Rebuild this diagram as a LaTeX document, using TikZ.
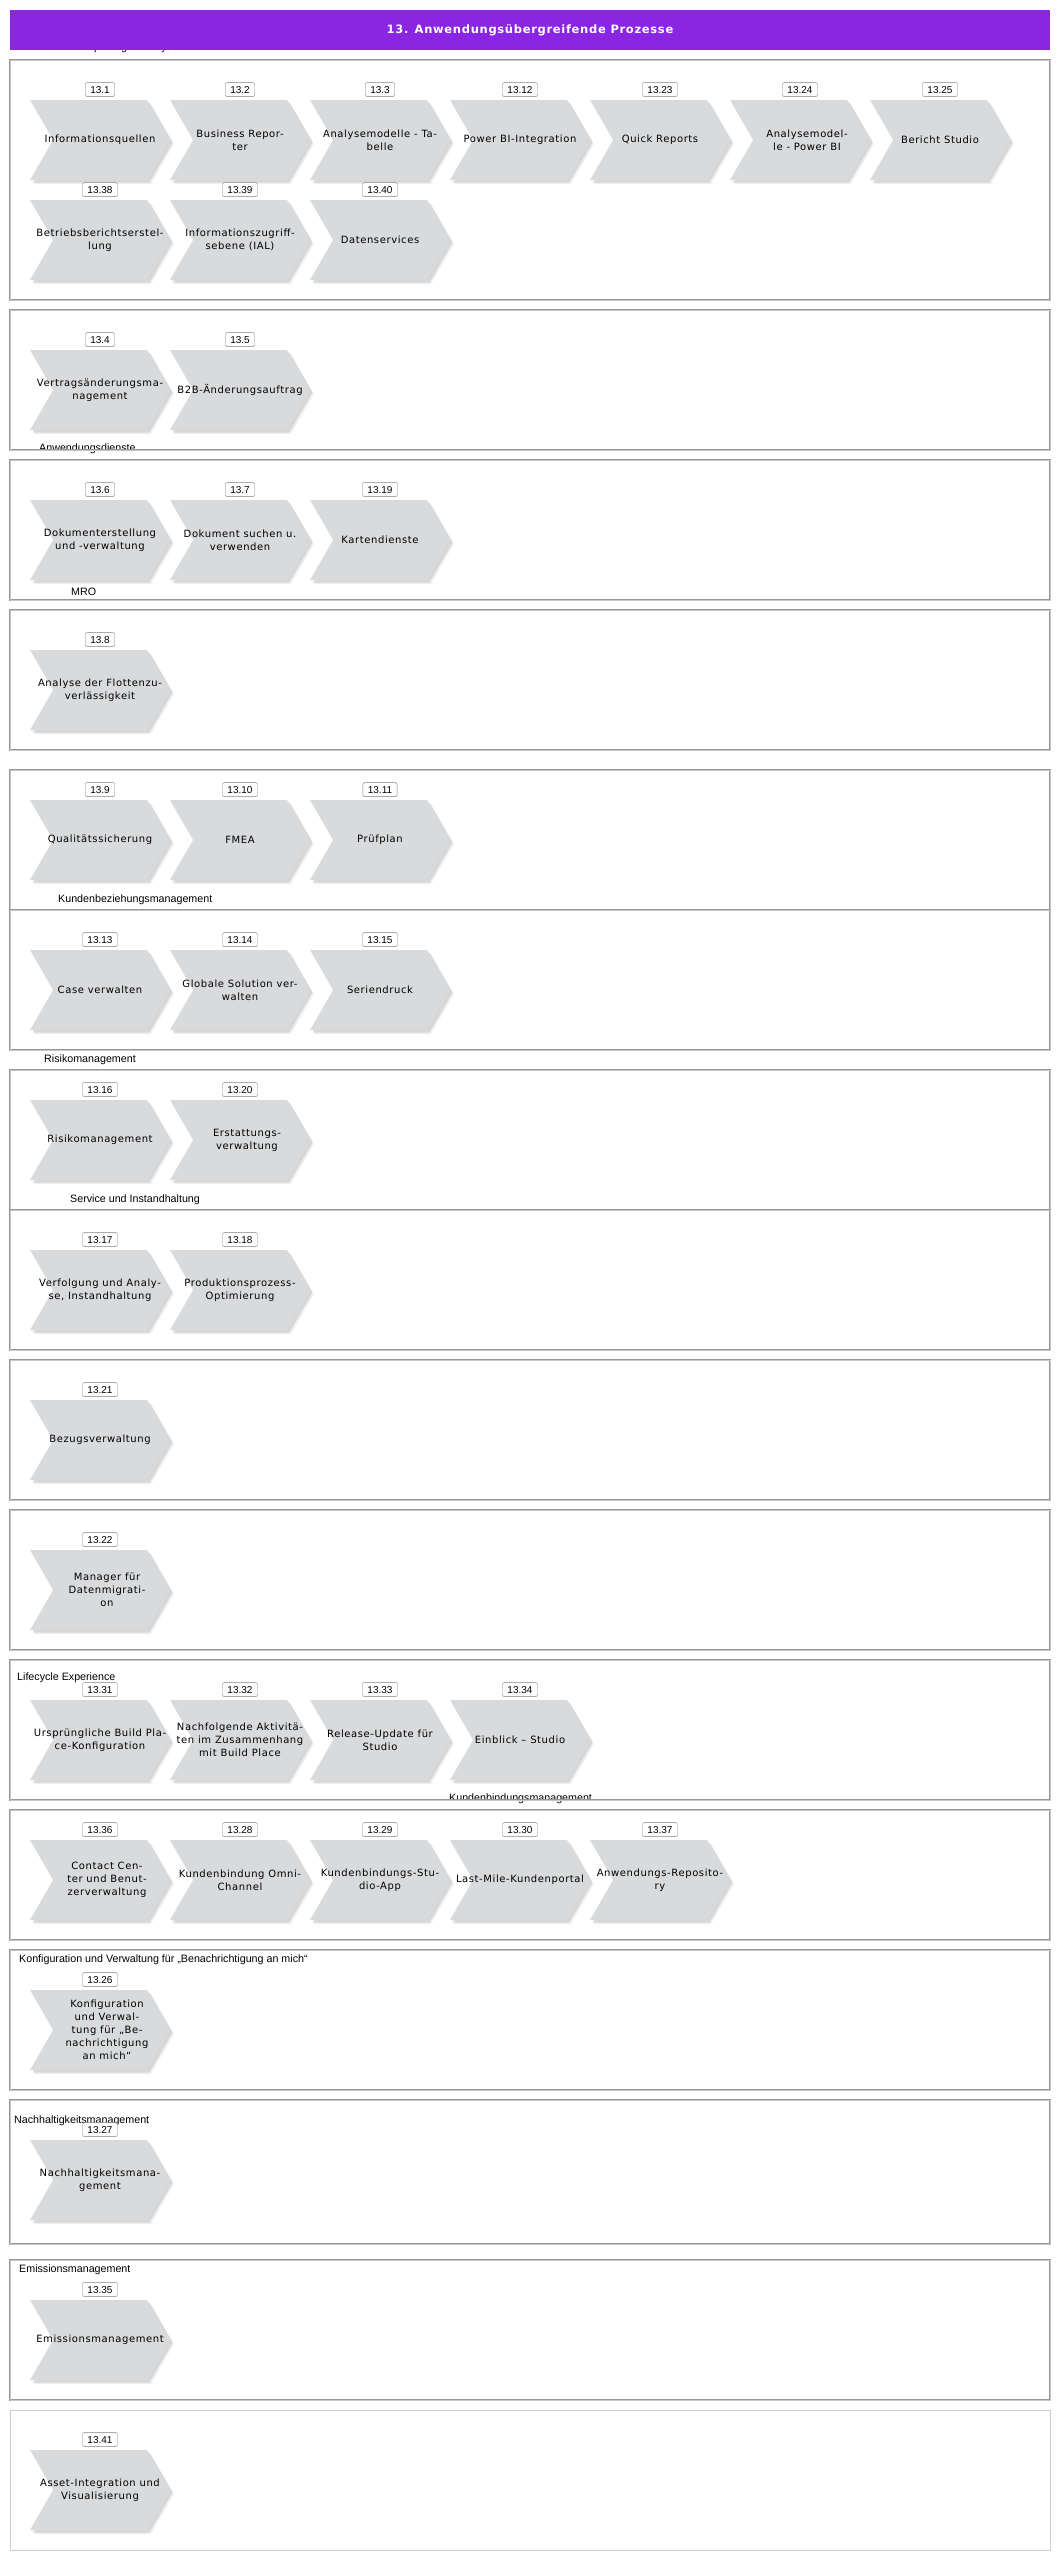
\documentclass[tikz,border=0pt]{standalone}
\usepackage{fontspec}
\setmainfont{Liberation Sans}
\newfontfamily\chevfont[LetterSpace=6]{DejaVu Sans}
\usetikzlibrary{positioning,shapes.symbols,shadows}

\begin{document}
\begin{tikzpicture}[x=1pt,y=-1pt]
\definecolor{titleviolet}{RGB}{138,38,226}
\definecolor{chevgray}{RGB}{217,218,220}
\definecolor{framegray}{RGB}{150,150,150}
\definecolor{lightframe}{RGB}{205,205,205}
\tikzset{
  frame/.style={draw=framegray, line width=0.8pt, double=black!22, double distance=1pt,
    minimum width=1040pt, inner sep=0pt},
  chevron/.style={signal, signal from=west, signal to=east, signal pointer angle=120,
    fill=chevgray, minimum width=140pt, minimum height=80pt, inner sep=0pt,
    drop shadow={shadow xshift=4pt, shadow yshift=-4pt, fill=black!12},
    drop shadow={shadow xshift=2.5pt, shadow yshift=-2.5pt, fill=black!25}},
  chevtext/.style={align=center, font=\chevfont\fontsize{10}{13}\selectfont, inner sep=0pt},
  numbox/.style={draw=black!50, fill=white, rounded corners=1.5pt, font=\fontsize{10}{12}\selectfont,
    inner xsep=5pt, inner ysep=0pt, minimum height=14pt},
  group/.style={anchor=west, font=\fontsize{10.7}{12}\selectfont, inner sep=0pt}
}
\useasboundingbox (0,0) rectangle (1060,2560);

% group labels
\node[group] (gBRA) at (34,48) {Business Reporting \& Analyse};
\node[group] (gAD) at (39,449) {Anwendungsdienste};
\node[group] (gMRO) at (71,592) {MRO};
\node[group] (gKBM) at (58,899.5) {Kundenbeziehungsmanagement};
\node[group] (gRM) at (44,1059.5) {Risikomanagement};
\node[group] (gSI) at (70,1199.5) {Service und Instandhaltung};
\node[group] (gLE) at (17,1678) {Lifecycle Experience};
\node[group] (gKBD) at (449,1799) {Kundenbindungsmanagement};
\node[group] (gKV) at (19,1960) {Konfiguration und Verwaltung für „Benachrichtigung an mich“};
\node[group] (gNH) at (14,2121) {Nachhaltigkeitsmanagement};
\node[group] (gEM) at (19,2270) {Emissionsmanagement};

% title
\node[fill=titleviolet, minimum width=1040pt, minimum height=40pt, inner sep=0pt, text=white,
  font=\chevfont\bfseries\fontsize{11.5}{14}\selectfont] (title) at (530,30)
  {13. Anwendungsübergreifende Prozesse};

% frames
\node[frame, minimum height=240pt] (f1) at (530,180) {};
\node[frame, minimum height=140pt] (f2) at (530,380) {};
\node[frame, minimum height=140pt] (f3) at (530,530) {};
\node[frame, minimum height=140pt] (f4) at (530,680) {};
\node[frame, minimum height=140pt] (f5) at (530,840) {};
\node[frame, minimum height=140pt] (f6) at (530,980) {};
\node[frame, minimum height=140pt] (f7) at (530,1140) {};
\node[frame, minimum height=140pt] (f8) at (530,1280) {};
\node[frame, minimum height=140pt] (f9) at (530,1430) {};
\node[frame, minimum height=140pt] (f10) at (530,1580) {};
\node[frame, minimum height=140pt] (f11) at (530,1730) {};
\node[frame, minimum height=130pt] (f12) at (530,1875) {};
\node[frame, minimum height=140pt] (f13) at (530,2020) {};
\node[frame, minimum height=144pt] (f14) at (530,2172) {};
\node[frame, minimum height=140pt] (f15) at (530,2330) {};
\node[frame, draw=lightframe, double=none, line width=1pt, minimum height=140pt] (f16) at (530,2480) {};

% Business Reporting & Analyse
\node[chevron] (p1) at (100,140) {};
\node[chevron] (p2) at (240,140) {};
\node[chevron] (p3) at (380,140) {};
\node[chevron] (p12) at (520,140) {};
\node[chevron] (p23) at (660,140) {};
\node[chevron] (p24) at (800,140) {};
\node[chevron] (p25) at (940,140) {};
\node[chevron] (p38) at (100,240) {};
\node[chevron] (p39) at (240,240) {};
\node[chevron] (p40) at (380,240) {};
\node[chevtext] (t1) at (p1) {Informationsquellen};
\node[chevtext] (t2) at (p2) {Business Repor-\\ter};
\node[chevtext] (t3) at (p3) {Analysemodelle - Ta-\\belle};
\node[chevtext] (t12) at (p12) {Power BI-Integration};
\node[chevtext] (t23) at (p23) {Quick Reports};
\node[chevtext, xshift=7pt] (t24) at (p24) {Analysemodel-\\le - Power BI};
\node[chevtext] (t25) at (p25) {Bericht Studio};
\node[chevtext] (t38) at (p38) {Betriebsberichtserstel-\\lung};
\node[chevtext] (t39) at (p39) {Informationszugriff-\\sebene (IAL)};
\node[chevtext] (t40) at (p40) {Datenservices};
\node[numbox, above=3pt of p1] (n1) {13.1};
\node[numbox, above=3pt of p2] (n2) {13.2};
\node[numbox, above=3pt of p3] (n3) {13.3};
\node[numbox, above=3pt of p12] (n12) {13.12};
\node[numbox, above=3pt of p23] (n23) {13.23};
\node[numbox, above=3pt of p24] (n24) {13.24};
\node[numbox, above=3pt of p25] (n25) {13.25};
\node[numbox, above=3pt of p38] (n38) {13.38};
\node[numbox, above=3pt of p39] (n39) {13.39};
\node[numbox, above=3pt of p40] (n40) {13.40};

% Vertrag, Anwendungsdienste, MRO
\node[chevron] (p4) at (100,390) {};
\node[chevron] (p5) at (240,390) {};
\node[chevron] (p6) at (100,540) {};
\node[chevron] (p7) at (240,540) {};
\node[chevron] (p19) at (380,540) {};
\node[chevron] (p8) at (100,690) {};
\node[chevtext] (t4) at (p4) {Vertragsänderungsma-\\nagement};
\node[chevtext] (t5) at (p5) {B2B-Änderungsauftrag};
\node[chevtext] (t6) at (p6) {Dokumenterstellung\\und -verwaltung};
\node[chevtext] (t7) at (p7) {Dokument suchen u.\\verwenden};
\node[chevtext] (t19) at (p19) {Kartendienste};
\node[chevtext] (t8) at (p8) {Analyse der Flottenzu-\\verlässigkeit};
\node[numbox, above=3pt of p4] (n4) {13.4};
\node[numbox, above=3pt of p5] (n5) {13.5};
\node[numbox, above=3pt of p6] (n6) {13.6};
\node[numbox, above=3pt of p7] (n7) {13.7};
\node[numbox, above=3pt of p19] (n19) {13.19};
\node[numbox, above=3pt of p8] (n8) {13.8};

% Qualitaet, Kundenbeziehung, Risiko, Service
\node[chevron] (p9) at (100,840) {};
\node[chevron] (p10) at (240,840) {};
\node[chevron] (p11) at (380,840) {};
\node[chevron] (p13) at (100,990) {};
\node[chevron] (p14) at (240,990) {};
\node[chevron] (p15) at (380,990) {};
\node[chevron] (p16) at (100,1140) {};
\node[chevron] (p20) at (240,1140) {};
\node[chevron] (p17) at (100,1290) {};
\node[chevron] (p18) at (240,1290) {};
\node[chevtext] (t9) at (p9) {Qualitätssicherung};
\node[chevtext] (t10) at (p10) {FMEA};
\node[chevtext] (t11) at (p11) {Prüfplan};
\node[chevtext] (t13) at (p13) {Case verwalten};
\node[chevtext] (t14) at (p14) {Globale Solution ver-\\walten};
\node[chevtext] (t15) at (p15) {Seriendruck};
\node[chevtext] (t16) at (p16) {Risikomanagement};
\node[chevtext, xshift=7pt] (t20) at (p20) {Erstattungs-\\verwaltung};
\node[chevtext] (t17) at (p17) {Verfolgung und Analy-\\se, Instandhaltung};
\node[chevtext] (t18) at (p18) {Produktionsprozess-\\Optimierung};
\node[numbox, above=3pt of p9] (n9) {13.9};
\node[numbox, above=3pt of p10] (n10) {13.10};
\node[numbox, above=3pt of p11] (n11) {13.11};
\node[numbox, above=3pt of p13] (n13) {13.13};
\node[numbox, above=3pt of p14] (n14) {13.14};
\node[numbox, above=3pt of p15] (n15) {13.15};
\node[numbox, above=3pt of p16] (n16) {13.16};
\node[numbox, above=3pt of p20] (n20) {13.20};
\node[numbox, above=3pt of p17] (n17) {13.17};
\node[numbox, above=3pt of p18] (n18) {13.18};

% Bezug, Datenmigration
\node[chevron] (p21) at (100,1440) {};
\node[chevron] (p22) at (100,1590) {};
\node[chevtext] (t21) at (p21) {Bezugsverwaltung};
\node[chevtext, xshift=7pt] (t22) at (p22) {Manager für\\Datenmigrati-\\on};
\node[numbox, above=3pt of p21] (n21) {13.21};
\node[numbox, above=3pt of p22] (n22) {13.22};

% Lifecycle Experience, Kundenbindung
\node[chevron] (p31) at (100,1740) {};
\node[chevron] (p32) at (240,1740) {};
\node[chevron] (p33) at (380,1740) {};
\node[chevron] (p34) at (520,1740) {};
\node[chevron] (p36) at (100,1880) {};
\node[chevron] (p28) at (240,1880) {};
\node[chevron] (p29) at (380,1880) {};
\node[chevron] (p30) at (520,1880) {};
\node[chevron] (p37) at (660,1880) {};
\node[chevtext] (t31) at (p31) {Ursprüngliche Build Pla-\\ce-Konfiguration};
\node[chevtext] (t32) at (p32) {Nachfolgende Aktivitä-\\ten im Zusammenhang\\mit Build Place};
\node[chevtext] (t33) at (p33) {Release-Update für\\Studio};
\node[chevtext] (t34) at (p34) {Einblick – Studio};
\node[chevtext, xshift=7pt] (t36) at (p36) {Contact Cen-\\ter und Benut-\\zerverwaltung};
\node[chevtext] (t28) at (p28) {Kundenbindung Omni-\\Channel};
\node[chevtext] (t29) at (p29) {Kundenbindungs-Stu-\\dio-App};
\node[chevtext] (t30) at (p30) {Last-Mile-Kundenportal};
\node[chevtext] (t37) at (p37) {Anwendungs-Reposito-\\ry};
\node[numbox, above=3pt of p31] (n31) {13.31};
\node[numbox, above=3pt of p32] (n32) {13.32};
\node[numbox, above=3pt of p33] (n33) {13.33};
\node[numbox, above=3pt of p34] (n34) {13.34};
\node[numbox, above=3pt of p36] (n36) {13.36};
\node[numbox, above=3pt of p28] (n28) {13.28};
\node[numbox, above=3pt of p29] (n29) {13.29};
\node[numbox, above=3pt of p30] (n30) {13.30};
\node[numbox, above=3pt of p37] (n37) {13.37};

% Benachrichtigung, Nachhaltigkeit, Emission, Asset
\node[chevron] (p26) at (100,2030) {};
\node[chevron] (p27) at (100,2180) {};
\node[chevron] (p35) at (100,2340) {};
\node[chevron] (p41) at (100,2490) {};
\node[chevtext, xshift=7pt] (t26) at (p26) {Konfiguration\\und Verwal-\\tung für „Be-\\nachrichtigung\\an mich“};
\node[chevtext] (t27) at (p27) {Nachhaltigkeitsmana-\\gement};
\node[chevtext] (t35) at (p35) {Emissionsmanagement};
\node[chevtext] (t41) at (p41) {Asset-Integration und\\Visualisierung};
\node[numbox, above=3pt of p26] (n26) {13.26};
\node[numbox, above=3pt of p27] (n27) {13.27};
\node[numbox, above=3pt of p35] (n35) {13.35};
\node[numbox, above=3pt of p41] (n41) {13.41};
\end{tikzpicture}
\end{document}
